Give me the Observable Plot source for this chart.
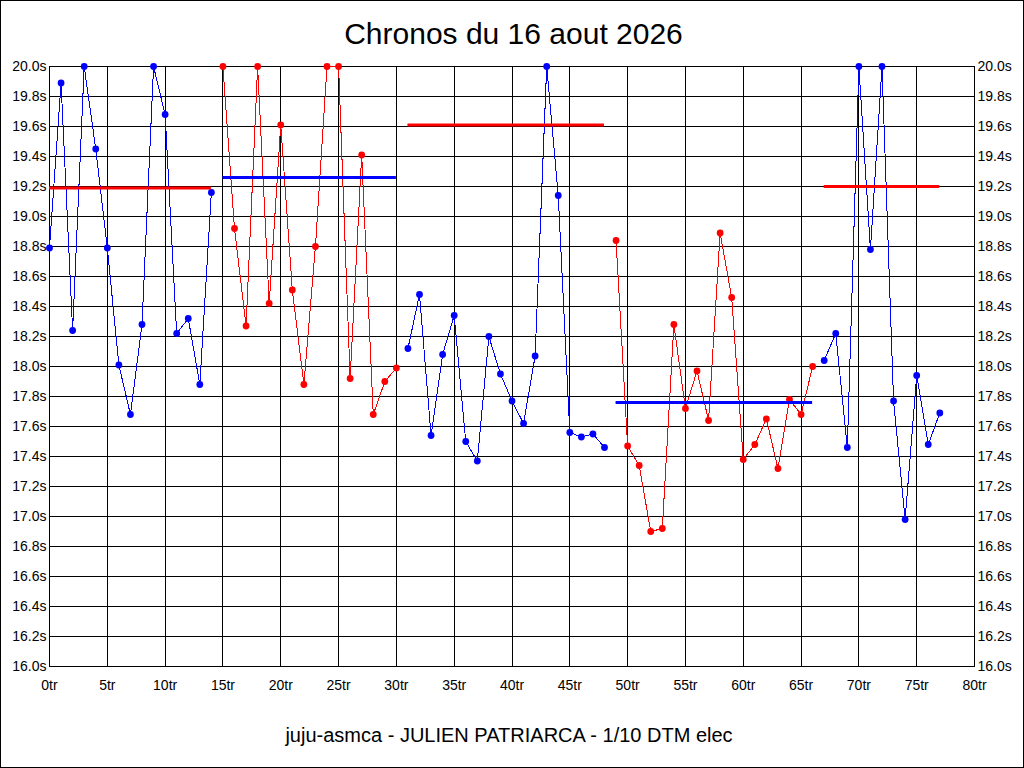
<!DOCTYPE html>
<html>
<head>
<meta charset="utf-8">
<script src="https://cdn.jsdelivr.net/npm/d3@7"></script>
<script src="https://cdn.jsdelivr.net/npm/@observablehq/plot@0.6"></script>
<style>
  html, body { margin: 0; padding: 0; background: #fff; overflow: hidden; }
  #page { position: relative; width: 1024px; height: 768px; overflow: hidden; background: #fff;
          font-family: "Liberation Sans", Arial, sans-serif; color: #000; }
  #chart { position: absolute; left: 0; top: 0; }
  #title { position: absolute; left: 0; width: 1027px; top: 19px; text-align: center;
           font-size: 30px; line-height: 30px; }
  #footer { position: absolute; left: 0; width: 1018px; top: 725px; text-align: center;
            font-size: 20px; line-height: 20px; }
  #border { position: absolute; left: 0; top: 0; width: 1024px; height: 768px; box-sizing: border-box;
            border: 1px solid #000; pointer-events: none; }
</style>
</head>
<body>
<div id="page">
  <div id="chart"></div>
  <div id="title">Chronos du 16 aout 2026</div>
  <div id="footer">juju-asmca - JULIEN PATRIARCA - 1/10 DTM elec</div>
  <div id="border"></div>
</div>
<script>
// Lap times (seconds), one per lap 0..77
const laps = [0,1,2,3,4,5,6,7,8,9,10,11,12,13,14,15,16,17,18,19,20,21,22,23,24,25,26,27,28,29,
  30,31,32,33,34,35,36,37,38,39,40,41,42,43,44,45,46,47,48,49,50,51,52,53,54,55,56,57,58,59,
  60,61,62,63,64,65,66,67,68,69,70,71,72,73,74,75,76,77];
const times = [18.79,19.89,18.24,20.00,19.45,18.79,18.01,17.68,18.28,20.00,19.68,18.22,18.32,17.88,19.16,
  20.00,18.92,18.27,20.00,18.42,19.61,18.51,17.88,18.80,20.00,20.00,17.92,19.41,17.68,17.90,17.99,
  18.12,18.48,17.54,18.08,18.34,17.50,17.37,18.20,17.95,17.77,17.62,18.07,20.00,19.14,17.56,17.53,17.55,17.46,
  18.84,17.47,17.34,16.90,16.92,18.28,17.72,17.97,17.64,18.89,18.46,17.38,17.48,17.65,17.32,17.78,17.68,18.00,
  18.04,18.22,17.46,20.00,18.78,20.00,17.77,16.98,17.94,17.48,17.69];

// Segments (runs)
const segStart = [0, 15, 31, 49, 67];
const segEnd   = [14, 30, 48, 66, 77];
const segColor = ["blue", "red", "blue", "red", "blue"];
const segMean  = [19.19, 19.26, 19.61, 17.76, 19.20];
const meanColor = ["red", "blue", "red", "blue", "red"];

// Ticks
const xTicks = [0,5,10,15,20,25,30,35,40,45,50,55,60,65,70,75,80];
const yTicks = [16.0,16.2,16.4,16.6,16.8,17.0,17.2,17.4,17.6,17.8,18.0,18.2,18.4,18.6,18.8,19.0,19.2,19.4,19.6,19.8,20.0];

const segOf = lap => segStart.findIndex((s, i) => lap >= s && lap <= segEnd[i]);
const data = laps.map((lap, i) => ({lap, time: times[i], seg: segOf(lap), color: segColor[segOf(lap)]}));
const means = segStart.map((s, i) => ({start: s, end: segEnd[i], mean: segMean[i], color: meanColor[i]}));

const yFmt = d => d.toFixed(1) + "s";

const chart = Plot.plot({
  width: 1024,
  height: 768,
  marginLeft: 49,
  marginRight: 50,
  marginTop: 66,
  marginBottom: 102,
  style: {fontFamily: "'Liberation Sans', Arial, sans-serif", fontSize: "14px", background: "transparent", color: "#000"},
  x: {domain: [0, 80], label: null},
  y: {domain: [16, 20], label: null},
  marks: [
    Plot.gridX(xTicks, {stroke: "#000", strokeOpacity: 1, strokeWidth: 1, shapeRendering: "crispEdges"}),
    Plot.gridY(yTicks, {stroke: "#000", strokeOpacity: 1, strokeWidth: 1, shapeRendering: "crispEdges"}),
    Plot.frame({stroke: "#000", shapeRendering: "crispEdges"}),
    Plot.axisX(xTicks, {tickSize: 0, tickPadding: 14, tickFormat: d => d + "tr", fontSize: 14, label: null}),
    Plot.axisY(yTicks, {anchor: "left", tickSize: 0, tickPadding: 3, tickFormat: yFmt, fontSize: 14, label: null}),
    Plot.axisY(yTicks, {anchor: "right", tickSize: 0, tickPadding: 3, tickFormat: yFmt, fontSize: 14, label: null}),
    Plot.line(data, {x: "lap", y: "time", z: "seg", stroke: "color", strokeWidth: 1, shapeRendering: "crispEdges"}),
    Plot.dot(data, {x: "lap", y: "time", fill: "color", r: 3.4, stroke: "none"}),
    Plot.ruleY(means, {x1: "start", x2: "end", y: "mean", stroke: "color", strokeWidth: 3})
  ]
});
document.getElementById("chart").appendChild(chart);
</script>
</body>
</html>
